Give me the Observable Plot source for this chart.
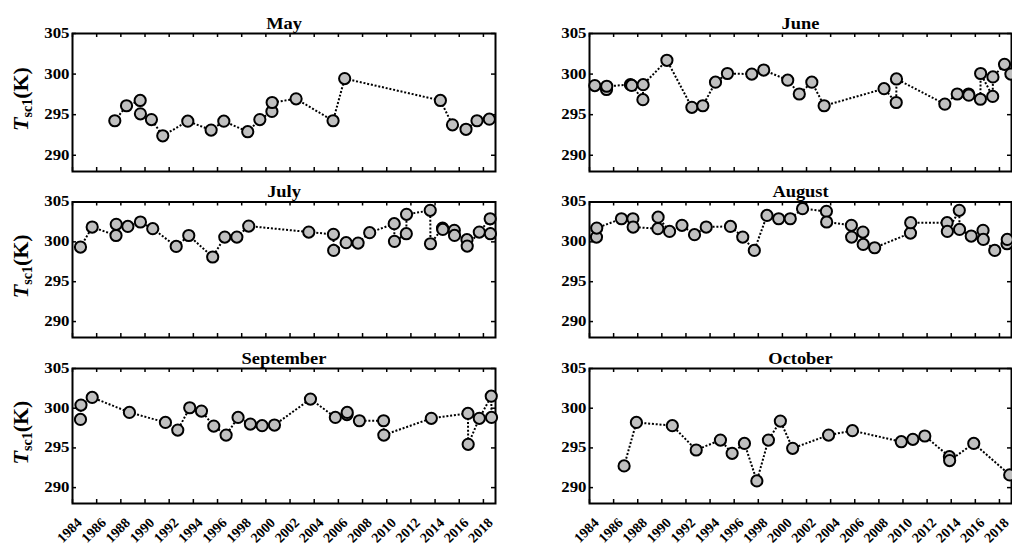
<!DOCTYPE html>
<html><head><meta charset="utf-8">
<script src="https://cdn.jsdelivr.net/npm/d3@7"></script>
<script src="https://cdn.jsdelivr.net/npm/@observablehq/plot@0.6"></script>
<style>
body{margin:0;background:#fff;overflow:hidden;}
#wrap{position:relative;width:1012px;height:548px;overflow:hidden;background:#fff;}
.panel{position:absolute;}
.panel svg{font-family:'Liberation Serif','Times New Roman',serif !important;overflow:visible;}
</style></head><body><div id="wrap"></div>
<script>
const xTicks = [1984,1986,1988,1990,1992,1994,1996,1998,2000,2002,2004,2006,2008,2010,2012,2014,2016,2018];
const yTicks = [290,295,300,305];
const months = ["May","June","July","August","September","October"];

const mayYear = [1987.5,1988.47,1989.6,1989.62,1990.53,1991.47,1993.54,1995.47,1996.52,1998.5,1999.5,2000.5,2000.52,2002.5,2005.56,2006.52,2014.44,2015.44,2016.56,2017.47,2018.49];
const mayT = [294.25,296.1,296.75,295.1,294.4,292.4,294.2,293.1,294.2,292.9,294.4,295.4,296.5,296.95,294.25,299.45,296.75,293.75,293.2,294.25,294.45];

const junYear = [1984.44,1985.41,1985.43,1987.39,1987.5,1988.43,1988.45,1990.42,1992.49,1993.4,1994.45,1995.44,1997.46,1998.45,2000.44,2001.4,2002.44,2003.46,2008.43,2009.44,2009.46,2013.47,2014.5,2015.44,2015.46,2016.42,2016.44,2017.44,2017.46,2018.42,2018.95];
const junT = [298.58,298.1,298.5,298.7,298.6,296.85,298.7,301.7,295.9,296.1,299.0,300.07,300.0,300.5,299.25,297.55,299.0,296.1,298.2,296.5,299.4,296.3,297.55,297.55,297.4,296.9,300.07,297.25,299.65,301.2,300.0];

const julYear = [1984.66,1985.63,1987.6,1987.62,1988.58,1989.62,1990.64,1992.58,1993.62,1995.6,1996.6,1997.6,1998.58,2003.55,2005.59,2005.61,2006.64,2007.63,2008.59,2010.62,2010.64,2011.62,2011.64,2013.6,2013.62,2014.62,2014.64,2015.59,2015.61,2016.64,2016.66,2017.66,2018.56,2018.58];
const julT = [299.35,301.86,300.8,302.2,301.94,302.49,301.65,299.43,300.8,298.1,300.6,300.6,301.98,301.23,300.94,298.93,299.9,299.85,301.15,302.28,300.06,301.02,303.45,303.95,299.76,301.73,301.56,301.44,300.81,300.27,299.47,301.23,302.9,301.02];

const augYear = [1984.58,1984.6,1986.65,1987.6,1987.62,1989.67,1989.69,1990.64,1991.67,1992.71,1993.68,1995.69,1996.71,1997.67,1998.72,1999.69,2000.65,2001.67,2003.65,2003.67,2005.72,2005.74,2006.68,2006.7,2007.65,2010.62,2010.64,2013.66,2013.68,2014.67,2014.69,2015.66,2016.64,2016.66,2017.61,2018.63,2018.65];
const augT = [300.6,301.73,302.9,302.9,301.86,301.65,303.1,301.31,302.07,300.9,301.86,301.94,300.6,298.93,303.32,302.9,302.9,304.16,303.83,302.49,302.07,300.6,301.23,299.68,299.26,301.1,302.4,302.4,301.31,303.95,301.56,300.73,301.44,300.31,298.93,299.76,300.31];

const sepYear = [1984.66,1984.7,1985.63,1988.71,1991.69,1992.71,1993.7,1994.67,1995.69,1996.71,1997.7,1998.72,1999.69,2000.71,2003.69,2005.75,2006.71,2006.73,2007.74,2009.74,2009.76,2013.69,2016.72,2016.74,2017.66,2018.65,2018.67];
const sepT = [298.59,300.39,301.36,299.47,298.21,297.25,300.06,299.64,297.75,296.62,298.84,298.0,297.8,297.88,301.15,298.84,299.2,299.47,298.42,298.42,296.62,298.72,299.34,295.45,298.72,301.52,298.84];

const octYear = [1986.87,1987.89,1990.87,1992.85,1994.86,1995.83,1996.85,1997.88,1998.84,1999.83,2000.85,2003.83,2005.81,2009.86,2010.82,2011.81,2013.85,2013.87,2015.87,2018.85];
const octT = [292.73,298.21,297.8,294.74,295.99,294.32,295.57,290.84,295.99,298.38,294.95,296.62,297.17,295.78,296.08,296.5,293.9,293.4,295.57,291.6];

const series = [[mayYear,mayT],[junYear,junT],[julYear,julT],[augYear,augT],[sepYear,sepT],[octYear,octT]];

const cols = [{left:0,width:506,ml:72,mr:11},{left:506,width:506,ml:83,mr:1}];
const rows = [{top:0,height:175,mt:33,mb:4},{top:168,height:172,mt:33.5,mb:3},{top:335,height:213,mt:33,mb:45}];
const FONT = "'Liberation Serif','Times New Roman',serif";
const wrap = document.getElementById("wrap");

function stretch(sel, k) {
  sel.each(function() {
    const w = this.getComputedTextLength();
    if (w > 0) { this.setAttribute("textLength", w * k); this.setAttribute("lengthAdjust", "spacingAndGlyphs"); }
  });
}

months.forEach((title,i)=>{
  const col = i%2, row = Math.floor(i/2);
  const C = cols[col], R = rows[row];
  const [yr,t] = series[i];
  const data = yr.map((x,j)=>({x, y:t[j]}));
  const fw = C.width - C.ml - C.mr, fh = R.height - R.mt - R.mb;
  const marks = [
    Plot.tickY(yTicks,{y:d=>d, insetRight:fw-4, strokeWidth:1.5}),
    Plot.tickY(yTicks,{y:d=>d, insetLeft:fw-4, strokeWidth:1.5}),
    Plot.tickX(xTicks,{x:d=>d, insetTop:fh-4, strokeWidth:1.5}),
    Plot.tickX(xTicks,{x:d=>d, insetBottom:fh-4, strokeWidth:1.5}),
    Plot.frame({stroke:"black", strokeWidth:2}),
    Plot.axisY({anchor:"left", ticks:yTicks, tickSize:0, tickPadding:3, label:null, fontSize:14, fontWeight:"bold", fontFamily:FONT}),
    Plot.line(data,{x:"x", y:"y", stroke:"black", strokeWidth:2, strokeDasharray:"2,1.8", strokeLinecap:"butt", strokeLinejoin:"miter"}),
    Plot.dot(data,{x:"x", y:"y", r:5.6, fill:"#c0c0c0", stroke:"black", strokeWidth:2}),
    Plot.text([title],{frameAnchor:"top", dy:-16, text:d=>d, fontSize:16, fontWeight:"bold", fontFamily:FONT})
  ];
  if (row===2) marks.push(Plot.axisX({anchor:"bottom", ticks:xTicks, tickFormat:d=>String(d), tickRotate:-45, tickSize:0, tickPadding:17, dx:7, fontSize:14, fontWeight:"bold", fontFamily:FONT, label:null}));
  const svg = Plot.plot({
    width:C.width, height:R.height,
    marginLeft:C.ml, marginRight:C.mr, marginTop:R.mt, marginBottom:R.mb,
    x:{domain:[1984,2019], axis: row===2 ? undefined : null},
    y:{domain:[288,305]},
    style:"font-family:'Liberation Serif','Times New Roman',serif;color:black;background:transparent;overflow:visible;",
    marks
  });
  const div = document.createElement("div");
  div.className = "panel";
  div.style.left = C.left+"px"; div.style.top = R.top+"px";
  div.appendChild(svg);
  wrap.appendChild(div);
  const s = d3.select(svg);
  stretch(s.selectAll('g[aria-label="y-axis tick label"] text'), 1.2);
  s.selectAll("text").filter(function(){ return /^\d{4}$/.test(this.textContent); })
    .attr("font-size", 14).attr("font-weight", "bold").style("font-size", "14px");
  stretch(s.selectAll('g[aria-label="text"] text'), 1.15);
  if (col===0) {
    const cy = R.mt + fh/2 - 3;
    const tx = s.append("text")
      .attr("transform",`translate(28,${cy}) rotate(-90)`)
      .attr("text-anchor","middle")
      .attr("font-family",FONT).attr("font-weight","bold").attr("font-size",22).attr("fill","black");
    tx.append("tspan").attr("font-style","italic").text("T");
    tx.append("tspan").attr("font-size",14).attr("dy",4).text("sc1");
    tx.append("tspan").attr("dy",-4).text("(K)");
  }
});
</script></body></html>
